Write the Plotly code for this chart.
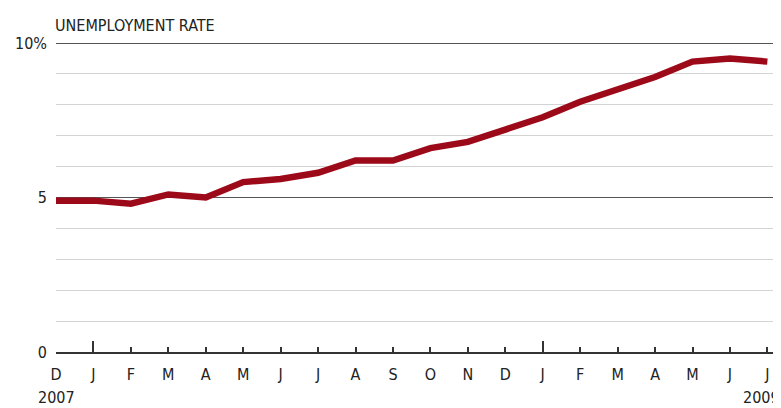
import plotly.graph_objects as go

months = ["D", "J", "F", "M", "A", "M", "J", "J", "A", "S", "O", "N",
          "D", "J", "F", "M", "A", "M", "J", "J"]
rate = [4.9, 4.9, 4.8, 5.1, 5.0, 5.5, 5.6, 5.8, 6.2, 6.2, 6.6, 6.8,
        7.2, 7.6, 8.1, 8.5, 8.9, 9.4, 9.5, 9.4]
years = [(0, "2007"), (19, "2009")]
january_idx = [1, 13]
y_ticks = [0, 5, 10]
y_ticktext = ["0", "5", "10%"]

FONT = "DejaVu Sans Condensed, Roboto Condensed, sans-serif"
RED = "#9c0a1a"
x = list(range(len(months)))

fig = go.Figure()
fig.add_trace(go.Scatter(x=x, y=rate, mode="lines",
                         line=dict(color=RED, width=6.5), hoverinfo="skip"))
fig.add_trace(go.Scatter(x=january_idx, y=[None, None], xaxis="x2",
                         mode="lines", showlegend=False, hoverinfo="skip"))

xr = [0, 19.15]
fig.update_layout(
    width=765, height=400,
    margin=dict(l=48, r=0, t=32, b=56, autoexpand=False),
    paper_bgcolor="white", plot_bgcolor="white",
    showlegend=False,
    font=dict(family=FONT, size=16, color="#222"),
    xaxis=dict(range=xr, tickmode="array", tickvals=x, ticktext=months,
               ticks="inside", ticklen=5, tickcolor="#333", tickwidth=1.5,
               showline=True, linecolor="#333", linewidth=2,
               showgrid=False, zeroline=False, ticklabelstandoff=7,
               tickfont=dict(size=16, color="#222")),
    xaxis2=dict(range=xr, overlaying="x", side="bottom", tickmode="array",
                tickvals=january_idx, ticks="inside", ticklen=11,
                tickcolor="#333", tickwidth=1.5, showticklabels=False,
                showgrid=False, zeroline=False, showline=False),
    yaxis=dict(range=[0, 10.1], tickmode="array", tickvals=y_ticks,
               ticktext=y_ticktext, showgrid=True, gridcolor="#555",
               gridwidth=1.2, zeroline=False, ticks="",
               ticklabelstandoff=8, tickfont=dict(size=16, color="#222"),
               minor=dict(dtick=1, tick0=0, showgrid=True,
                          gridcolor="#d4d4d4", gridwidth=1)),
)

for xi, label in years:
    fig.add_annotation(x=xi, y=0, xref="x", yref="paper", text=label,
                       showarrow=False, yanchor="top", yshift=-34,
                       xshift=(0 if xi == 0 else -6),
                       font=dict(family=FONT, size=16, color="#222"))

fig.add_annotation(x=0, y=1, xref="paper", yref="paper",
                   text="UNEMPLOYMENT RATE", showarrow=False,
                   xanchor="left", yanchor="bottom", yshift=3, xshift=-3,
                   font=dict(family=FONT, size=16, color="#222"))

fig.write_html("out.html")
